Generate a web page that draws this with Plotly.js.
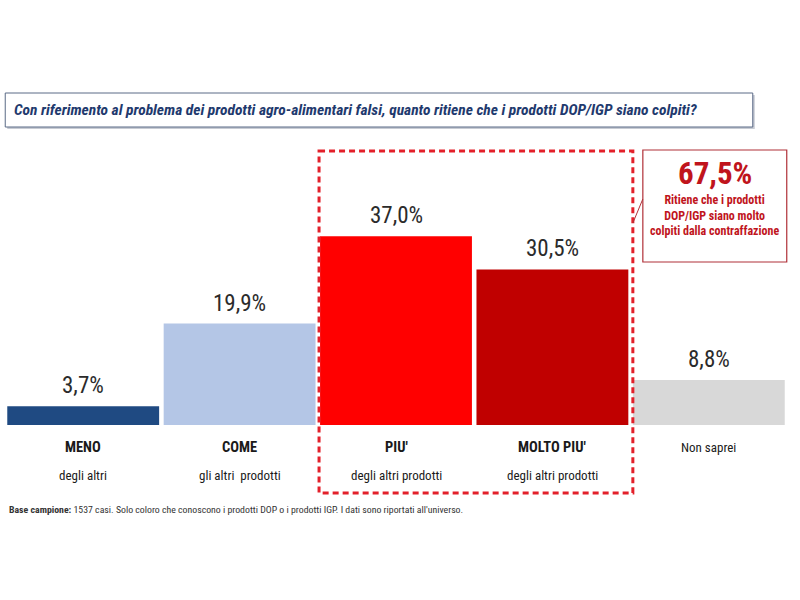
<!DOCTYPE html>
<html>
<head>
<meta charset="utf-8">
<script src="https://cdn.plot.ly/plotly-3.0.1.min.js"></script>
<style>html,body{margin:0;padding:0;background:#fff;}#chart{width:800px;height:600px;}</style>
</head>
<body>
<div id="chart"></div>
<script>
// ---- data ----
const categories = ["MENO", "COME", "PIU'", "MOLTO PIU'", "Non saprei"];
const subLabels = ["degli altri", "gli altri  prodotti", "degli altri prodotti", "degli altri prodotti", ""];
const values = [3.7, 19.9, 37.0, 30.5, 8.8];
const valueLabels = ["3,7%", "19,9%", "37,0%", "30,5%", "8,8%"];
const barColors = ["#1f4a82", "#b4c6e6", "#ff0000", "#c00000", "#d8d8d8"];
const boldCats = [true, true, true, true, false];
const totalLabel = "67,5%";
const calloutLines = ["Ritiene che i prodotti", "DOP/IGP siano molto", "colpiti dalla contraffazione"];
const titleText = "Con riferimento al problema dei prodotti agro-alimentari falsi, quanto ritiene che i prodotti DOP/IGP siano colpiti?";

// ---- layout geometry ----
const W = 800, H = 600;
const mL = 4.75, mR = 800 - 787.25, mT = 140, mB = 175;
const plotW = W - mL - mR, plotH = H - mT - mB;
const px = x => (x - mL) / plotW;
const py = y => (H - mB - y) / plotH;
const F = "'Liberation Sans Narrow', 'Arial Narrow', 'Roboto Condensed', 'Liberation Sans', sans-serif";

const trace = {
  type: "bar",
  x: categories,
  y: values,
  marker: { color: barColors, line: { width: 0 } },
  hoverinfo: "skip"
};

const annotations = [];
categories.forEach((c, i) => {
  annotations.push({
    x: c, y: values[i], xref: "x", yref: "y", text: valueLabels[i],
    showarrow: false, yanchor: "bottom", yshift: 5,
    font: { family: F, size: 23, color: "#2b2b2b" }
  });
  annotations.push({
    x: c, y: py(447), xref: "x", yref: "paper",
    text: boldCats[i] ? "<b>" + c + "</b>" : c,
    showarrow: false, yanchor: "middle",
    font: { family: F, size: boldCats[i] ? 14.5 : 13, color: "#1a1a1a" }
  });
  if (subLabels[i]) annotations.push({
    x: c, y: py(475), xref: "x", yref: "paper", text: subLabels[i],
    showarrow: false, yanchor: "middle",
    font: { family: F, size: 13, color: "#1a1a1a" }
  });
});
// title
annotations.push({
  x: px(12), y: py(110), xref: "paper", yref: "paper", xanchor: "left", yanchor: "middle",
  text: "<b><i>" + titleText + "</i></b>", showarrow: false,
  font: { family: F, size: 15.5, color: "#1f3a6e" }
});
// callout
annotations.push({
  x: px(715), y: py(173), xref: "paper", yref: "paper", xanchor: "center", yanchor: "middle",
  text: "<b>" + totalLabel + "</b>", showarrow: false,
  font: { family: F, size: 31, color: "#c0141c" }
});
annotations.push({
  x: px(715), y: py(215), xref: "paper", yref: "paper", xanchor: "center", yanchor: "middle",
  text: "<b>" + calloutLines.join("<br>") + "</b>", showarrow: false,
  font: { family: F, size: 12, color: "#c0141c" }
});
// footnote
annotations.push({
  x: px(7), y: py(509), xref: "paper", yref: "paper", xanchor: "left", yanchor: "middle",
  text: "<b>Base campione:</b> 1537 casi. Solo coloro che conoscono i prodotti DOP o i prodotti IGP. I dati sono riportati all'universo.",
  showarrow: false, font: { family: F, size: 9.8, color: "#333333" }
});

const shapes = [
  // title box shadow + box
  { type: "rect", xref: "paper", yref: "paper", x0: px(7), x1: px(755), y0: py(95), y1: py(129),
    line: { width: 0 }, fillcolor: "#c8ccd4", layer: "below" },
  { type: "rect", xref: "paper", yref: "paper", x0: px(5), x1: px(753), y0: py(93), y1: py(127),
    line: { width: 1, color: "#5a6a86" }, fillcolor: "#ffffff", layer: "below" },
  // dashed highlight box
  { type: "rect", xref: "paper", yref: "paper", x0: px(319), x1: px(633), y0: py(151), y1: py(493),
    line: { width: 3, color: "#e3202a", dash: "6px,4px" }, layer: "above" },
  // callout box
  { type: "rect", xref: "paper", yref: "paper", x0: px(643), x1: px(787), y0: py(150), y1: py(262),
    line: { width: 1.2, color: "#b03038" }, fillcolor: "rgba(0,0,0,0)" },
  // connector
  { type: "line", xref: "paper", yref: "paper", x0: px(633), x1: px(643), y0: py(223), y1: py(199),
    line: { width: 1, color: "#b03038" } }
];

const layout = {
  width: W, height: H,
  margin: { l: mL, r: mR, t: mT, b: mB, pad: 0 },
  paper_bgcolor: "#ffffff", plot_bgcolor: "#ffffff",
  bargap: 0.029,
  showlegend: false,
  xaxis: { showticklabels: false, showgrid: false, zeroline: false, showline: false, ticks: "", fixedrange: true },
  yaxis: { range: [0, plotH / 5.1], visible: false, showgrid: false, zeroline: false, fixedrange: true },
  annotations: annotations,
  shapes: shapes
};

Plotly.newPlot("chart", [trace], layout, { displayModeBar: false, staticPlot: true });
</script>
</body>
</html>
